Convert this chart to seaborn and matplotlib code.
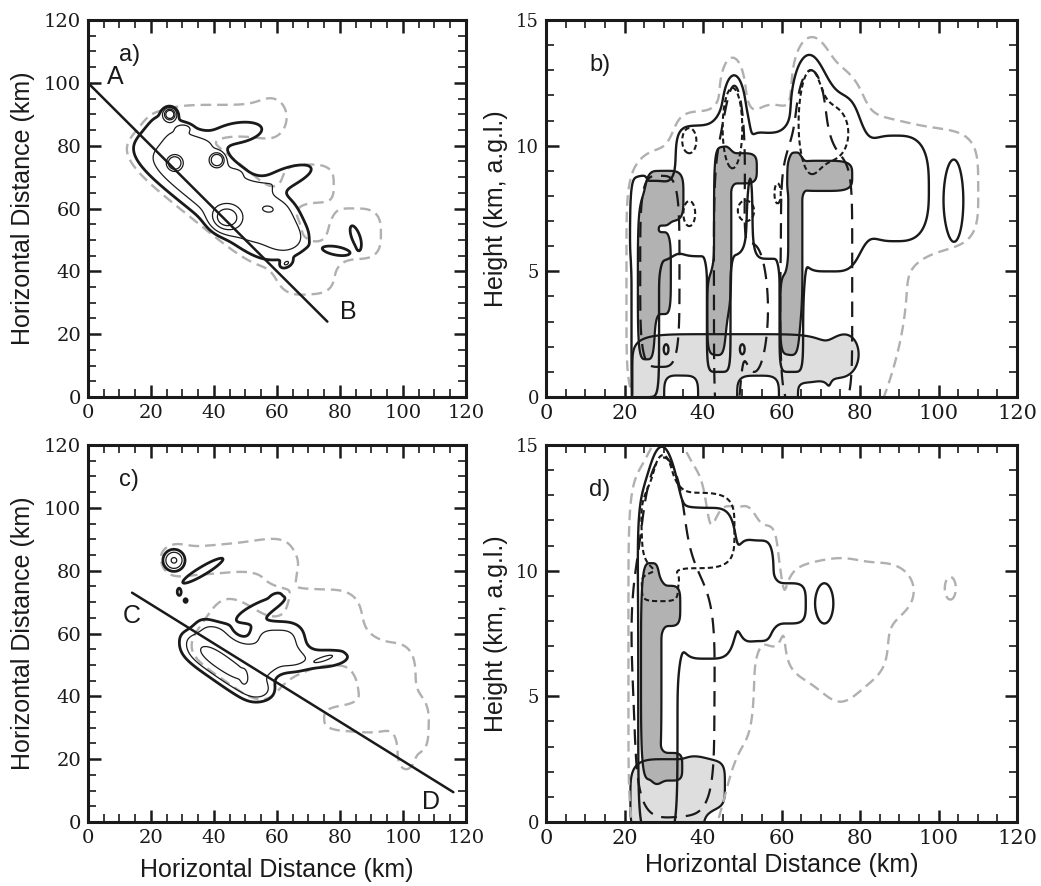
import numpy as np
import seaborn as sns
import matplotlib.pyplot as plt

sns.set_theme(style="ticks")
plt.rcParams['font.family'] = ['Liberation Sans', 'DejaVu Sans']
plt.rcParams['text.color'] = 'k'
plt.rcParams['axes.labelcolor'] = 'k'

# echo cells: (x, y, half-width, half-height, angle, amplitude, shape)
# a) plan view
a_outer = [(40, 66, 31, 11.5, -39, 1, 4), (42, 88, 13, 5, 0, 1, 4), (58, 89, 5, 6, 0, 1, 2),
           (70, 68, 8, 6, 0, 1, 3), (85, 52, 8, 8, 0, 1, 3), (70, 40, 8, 7, 0, 1, 3)]
a_refl = [(40, 67, 26, 9.5, -39, 1.4, 4), (47, 84, 9, 3.5, 10, 0.9, 2), (63, 70, 9, 3, 20, 0.9, 2),
          (64, 50, 5, 4, 0, 0.8, 2), (62, 57, 5, 7, 0, 0.6, 2), (26, 90, 1.3, 1.3, 0, 5, 2),
          (27.5, 74.5, 1.6, 1.6, 0, 5, 2), (41, 75.5, 1.5, 1.5, 0, 5, 2), (44, 57, 3.5, 3.0, 0, 3, 2),
          (79, 46.5, 5, 1.6, -10, 0.8, 2), (85, 51, 1.6, 4.5, 20, 0.8, 2), (63, 42.5, 1.6, 1.0, 30, 0.8, 2),
          (30.5, 85.6, 1.8, 1.0, 0, 0.7, 2), (57, 60, 3.5, 2, 0, 0.7, 2), (47, 71, 1.5, 1, 0, 0.7, 2)]
line_ab_x = [0, 76]
line_ab_y = [100, 24]

# c) plan view
c_outer = [(28, 84, 4, 4, 0, 1, 2), (44, 84, 16, 4.5, 5, 1, 4), (60, 82, 6, 6, 0, 1, 2),
           (50, 55, 16, 12, -35, 1, 4), (75, 62, 12, 12, 0, 1, 3), (95, 45, 9, 12, 0, 1, 3),
           (85, 33, 10, 4, 0, 1, 3), (103, 30, 5, 8, 0, 1, 3), (101, 20, 2, 3, 0, 1, 2)]
c_refl = [(27.3, 83.3, 2.4, 2.4, 0, 2.2, 2), (36.5, 80, 9, 1.6, 31, 0.8, 2), (29, 73, 0.6, 1, 0, 0.8, 2),
          (31, 70.5, 0.6, 0.7, 0, 0.8, 2), (44, 52, 13, 7, -35, 1.5, 4), (60, 56, 8, 7, 0, 1.3, 3),
          (42, 51, 10, 2.5, -35, 1.0, 2), (55, 68, 10, 2.5, 25, 0.8, 2), (75, 52, 9, 3.2, 5, 0.8, 2),
          (55, 42, 4, 3, 0, 0.8, 2), (49.5, 46, 0.7, 1.6, 0, 0.8, 2), (59.5, 72, 1.2, 0.6, 20, 0.5, 2),
          (75, 52, 3, 0.6, 20, 0.5, 2)]
line_cd_x = [14, 116]
line_cd_y = [73, 9.5]

# b) cross section A-B
b_outer = [(50, 4.5, 29.5, 5.5, 0, 1, 6), (42, 10, 8, 1.3, 0, 1, 4), (47.5, 12, 3.3, 1.5, 0, 1, 2),
           (57, 10.5, 4, 1.0, 0, 1, 2), (67.5, 12.5, 4.5, 1.7, 0, 1, 2), (75, 11, 4.5, 1.5, 0, 1, 2),
           (95, 8.3, 15, 2.3, 0, 1, 4), (80, 5, 12, 5, 0, 1, 2)]
b_cloud = [(42, 8.2, 9, 2.6, 0, 1, 6), (27, 7.0, 5.3, 1.6, 0, 1, 4), (23.8, 3, 1.8, 5, 0, 1, 6),
           (47.9, 11.0, 3.2, 1.8, 0, 1, 2), (58, 8.0, 5, 2.5, 0, 1, 6), (67, 11.5, 3.8, 2.0, 0, 1, 2),
           (72, 8.5, 8, 3.5, 0, 1, 4), (89, 8.3, 8.5, 2.1, 0, 1, 3), (104, 7.8, 2.3, 1.6, 0, 1, 2),
           (25.5, 3.5, 3.3, 3.5, 0, 1, 6), (44, 3.5, 3, 2.5, 0, 1, 6), (62.5, 3.5, 3, 2.5, 0, 1, 6),
           (30.6, 1.9, 0.6, 0.2, 0, 1, 2), (50, 1.9, 0.6, 0.2, 0, 1, 2)]
b_rain = [(47, 0.7, 25, 1.8, 0, 1, 6), (34.5, 0.0, 4, 0.8, 0, -1.2, 4), (54, 0.0, 5, 0.8, 0, -1.2, 4),
          (67.5, 0.0, 3, 0.5, 0, -1.2, 4), (76.5, 1.7, 3, 0.7, 0, 1, 2)]
b_core = [(25.6, 4.6, 2.2, 3.1, 0, 1, 4), (29.8, 4.9, 2.0, 1.6, 0, 1, 4), (30.5, 8.0, 4.5, 1.0, 0, 1, 4),
          (43.3, 3.3, 2.2, 1.6, 0, 1, 4), (45, 6.6, 2.2, 3.3, 0, 1, 4), (49.5, 9.1, 4.2, 0.6, 0, 1, 4),
          (62, 3.3, 2.3, 1.6, 0, 1, 4), (63.5, 6.5, 1.8, 3.2, 0, 1, 4), (70.5, 8.8, 7.5, 0.6, 0, 1, 4)]
b_updraft = [(29, 5.0, 5, 3.8, 0, 1, 4), (46, 4, 3.2, 5.5, 0, 1, 4), (48, 9.5, 2.5, 2.8, 0, 1, 2),
             (53, 3.5, 3.5, 2.5, 0, 1, 2), (69, 4.5, 9, 5, 0, 1, 6), (67.5, 10.5, 4, 2.5, 0, 1, 2)]
b_ice = [(47.5, 10.7, 2.5, 1.6, 0, 1, 2), (67.5, 11.0, 3, 2, 0, 1, 2), (73, 10.5, 4, 1.0, 0, 1, 2),
         (36.5, 10.2, 1.8, 0.5, 0, 1, 2), (36.5, 7.3, 1.5, 0.5, 0, 1, 2), (51, 7.4, 2, 0.4, 0, 1, 2),
         (59, 8.1, 0.8, 0.4, 0, 1, 2)]

# d) cross section C-D
d_outer = [(31, 6.5, 10, 7.5, 0, 1, 6), (31, 13.5, 3.5, 1.8, 0, 1, 2), (42, 4, 5, 4, 0, 1, 2),
           (48, 8, 5, 4.5, 0, 1, 4), (55, 9.5, 4, 2.3, 0, 1, 4), (74, 8, 13, 2.3, 0, 1, 4),
           (75, 7, 5, 2, 0, 1, 2), (89, 9.2, 4.5, 0.8, 0, 1, 2), (103, 9.3, 1.4, 0.45, 0, 1, 2)]
d_cloud = [(28.5, 6, 5, 6.5, 0, 1, 6), (29.5, 12.5, 3.5, 2.4, 0, 1, 2), (41, 9.5, 7.5, 3.0, 0, 1, 4),
           (54, 9.2, 4, 2, 0, 1, 4), (61.5, 8.7, 4.5, 0.8, 0, 1, 4), (70.9, 8.7, 2.3, 0.8, 0, 1, 2)]
d_rain = [(31, 0.9, 9.5, 1.6, 0, 1, 4), (41, 1.5, 4.5, 0.9, 0, 1, 4)]
d_core = [(26.8, 6.0, 2.6, 4.3, 0, 1, 4), (31, 8.6, 3.2, 0.8, 0, 1, 4), (31.5, 2.2, 3.2, 0.55, 0, 1, 4)]
d_updraft = [(33, 4.8, 9.8, 4.5, 0, 1, 4), (30, 10, 6, 4.5, 0, 1, 2)]
d_ice = [(36.5, 11.6, 11.5, 1.5, 0, 1, 4), (29.8, 12.8, 3, 1.8, 0, 1, 2), (29, 9.3, 4.5, 0.5, 0, 1, 4)]

GRAY = '#b0b0b0'
LIGHT = '#dedede'
DARK = '#b2b2b2'


def field(xx, yy, cells):
    z = np.zeros_like(xx)
    for x0, y0, a, b, ang, amp, p in cells:
        t = np.deg2rad(ang)
        dx, dy = xx - x0, yy - y0
        u = dx * np.cos(t) + dy * np.sin(t)
        v = -dx * np.sin(t) + dy * np.cos(t)
        z += amp * np.exp(-np.log(2) * (np.abs(u / a) ** p + np.abs(v / b) ** p))
    return z


def outline(ax, xx, yy, cells, color='k', lw=1.8, dashes=None, levels=(0.5,)):
    cs = ax.contour(xx, yy, field(xx, yy, cells), levels=list(levels), colors=color, linewidths=lw)
    if dashes is not None:
        cs.set_linestyle((0, dashes))
    return cs


def filled(ax, xx, yy, cells, color):
    z = field(xx, yy, cells)
    ax.contourf(xx, yy, z, levels=[0.5, 1e6], colors=[color])
    ax.contour(xx, yy, z, levels=[0.5], colors='k', linewidths=1.6)


def style(ax, xmaj, xmin, ymaj, ymin, ylim, xfs, yfs):
    ax.set_xlim(0, 120)
    ax.set_ylim(*ylim)
    ax.set_xticks(np.arange(0, 121, xmaj))
    ax.set_xticks(np.arange(0, 121, xmin), minor=True)
    ax.set_yticks(np.arange(ylim[0], ylim[1] + 0.1, ymaj))
    ax.set_yticks(np.arange(ylim[0], ylim[1] + 0.1, ymin), minor=True)
    ax.tick_params(which='both', direction='in', top=True, right=True, colors='k')
    ax.tick_params(which='major', length=9, width=1.8)
    ax.tick_params(which='minor', length=5.5, width=1.2)
    ax.tick_params(axis='x', labelsize=xfs, pad=5)
    ax.tick_params(axis='y', labelsize=yfs, pad=5)
    for lab in ax.get_xticklabels() + ax.get_yticklabels():
        lab.set_family('DejaVu Serif')
    for s in ax.spines.values():
        s.set_linewidth(2.2)
        s.set_color('k')
    ax.set_xlabel('')
    ax.set_ylabel('')


fig = plt.figure(figsize=(10.41, 8.86), dpi=100)
ax_a = fig.add_axes([0.0845, 0.5519, 0.3631, 0.4255])
ax_b = fig.add_axes([0.5245, 0.5519, 0.4525, 0.4255])
ax_c = fig.add_axes([0.0845, 0.0722, 0.3631, 0.4255])
ax_d = fig.add_axes([0.5245, 0.0722, 0.4525, 0.4255])

px, py = np.meshgrid(np.linspace(-5, 125, 521), np.linspace(-5, 125, 521))
sx, sz = np.meshgrid(np.linspace(-5, 125, 651), np.linspace(-2, 16, 541))

# plan views
for ax, outer, refl, lx, ly, tag in [
        (ax_a, a_outer, a_refl, line_ab_x, line_ab_y, 'a)'),
        (ax_c, c_outer, c_refl, line_cd_x, line_cd_y, 'c)')]:
    outline(ax, px, py, outer, color=GRAY, lw=1.7, dashes=(4.5, 2.5))
    outline(ax, px, py, refl, lw=2.0)
    outline(ax, px, py, refl, lw=0.9, levels=(1.0, 2.0, 3.0))
    sns.lineplot(x=lx, y=ly, ax=ax, color='k', linewidth=1.8)
    style(ax, 20, 5, 20, 5, (0, 120), 14, 14)
    ax.set_ylabel('Horizontal Distance (km)', fontsize=18)
    ax.yaxis.set_label_coords(-0.14, 0.5)
    ax.text(10, 109, tag, fontsize=17, va='center')

ax_a.text(6, 102, 'A', fontsize=18, va='center')
ax_a.text(80, 27, 'B', fontsize=18, va='center')
ax_c.text(11, 65.5, 'C', fontsize=18, va='center')
ax_c.text(106, 6.5, 'D', fontsize=18, va='center')
ax_c.set_xlabel('Horizontal Distance (km)', fontsize=18)
ax_c.xaxis.set_label_coords(0.5, -0.095)

# cross sections
for ax, outer, cloud, rain, core, up, ice, tag in [
        (ax_b, b_outer, b_cloud, b_rain, b_core, b_updraft, b_ice, 'b)'),
        (ax_d, d_outer, d_cloud, d_rain, d_core, d_updraft, d_ice, 'd)')]:
    filled(ax, sx, sz, rain, LIGHT)
    filled(ax, sx, sz, core, DARK)
    outline(ax, sx, sz, outer, color=GRAY, lw=1.7, dashes=(4.5, 2.5))
    outline(ax, sx, sz, cloud, lw=1.7)
    outline(ax, sx, sz, up, lw=1.6, dashes=(7, 4))
    outline(ax, sx, sz, ice, lw=1.5, dashes=(2.5, 1.5))
    style(ax, 20, 5, 5, 1, (0, 15), 15, 13)
    ax.set_ylabel('Height (km, a.g.l.)', fontsize=18)
    ax.yaxis.set_label_coords(-0.08, 0.5)
    ax.text(11, 13.2, tag, fontsize=17, va='center')

ax_d.set_xlabel('Horizontal Distance (km)', fontsize=18)
ax_d.xaxis.set_label_coords(0.5, -0.083)

fig.savefig('out.png', dpi=100)
